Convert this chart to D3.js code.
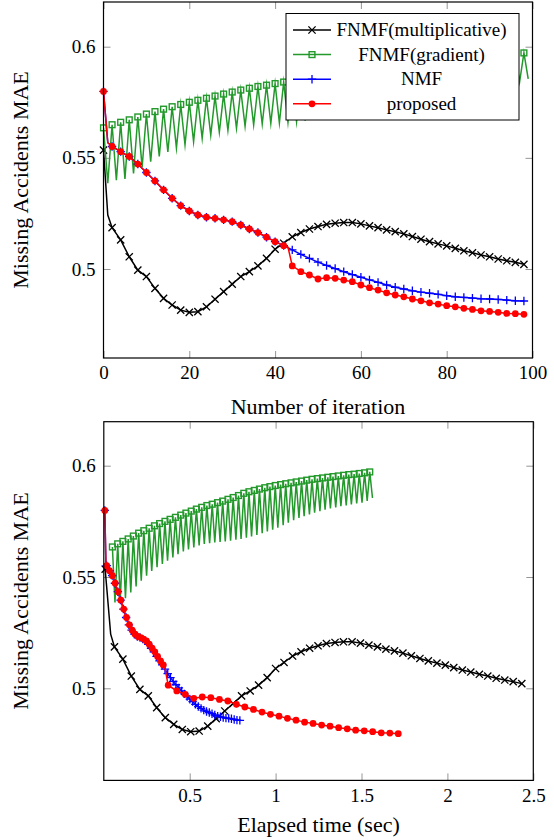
<!DOCTYPE html>
<html><head><meta charset="utf-8">
<script src="https://cdn.jsdelivr.net/npm/d3@7"></script>
<style>body{margin:0;background:#fff}svg{display:block}</style>
</head><body>
<svg id="c" width="554" height="840"></svg>
<script>
// ---------------- DATA ----------------
const seriesNames = ["FNMF(multiplicative)", "FNMF(gradient)", "NMF", "proposed"];
const topXTicks = [0, 20, 40, 60, 80, 100];
const bottomXTicks = [0.5, 1, 1.5, 2, 2.5];
const yTicks = [0.5, 0.55, 0.6];
const topXLabel = "Number of iteration";
const bottomXLabel = "Elapsed time (sec)";
const yLabel = "Missing Accidents MAE";

// FNMF(multiplicative)
const blackIter = [0,1,2,4,6,8,10,12,14,16,18,20,22,24,26,28,30,32,34,36,38,40,42,44,46,48,50,52,54,56,58,60,62,64,66,68,70,72,74,76,78,80,82,84,86,88,90,92,94,96,98];
const blackMAE = [0.5535,0.5243,0.5186,0.5131,0.5055,0.4995,0.4966,0.4913,0.4868,0.4838,0.4815,0.4805,0.4808,0.4830,0.4864,0.4898,0.4932,0.4966,0.4988,0.5014,0.5048,0.5089,0.5116,0.5145,0.5164,0.5180,0.5191,0.5201,0.5206,0.5209,0.5209,0.5203,0.5194,0.5186,0.5176,0.5168,0.5158,0.5146,0.5134,0.5123,0.5113,0.5104,0.5093,0.5082,0.5073,0.5063,0.5055,0.5045,0.5037,0.5030,0.5021];
const blackTime = [0.008,0.040,0.062,0.111,0.160,0.210,0.259,0.308,0.358,0.407,0.457,0.506,0.555,0.605,0.654,0.704,0.753,0.802,0.852,0.901,0.951,1.000,1.049,1.099,1.148,1.198,1.247,1.296,1.346,1.395,1.445,1.494,1.543,1.593,1.642,1.692,1.741,1.790,1.840,1.889,1.939,1.988,2.037,2.087,2.136,2.186,2.235,2.284,2.334,2.383,2.433];

// FNMF(gradient): peaks at even iterations, troughs at odd iterations
const greenPeakMAE = [0.5635,0.5649,0.5660,0.5671,0.5684,0.5697,0.5708,0.5719,0.5730,0.5740,0.5750,0.5759,0.5768,0.5778,0.5787,0.5796,0.5805,0.5813,0.5821,0.5827,0.5834,0.5841,0.5849,0.5857,0.5866,0.5876,0.5883,0.5889,0.5895,0.5901,0.5906,0.5911,0.5915,0.5919,0.5923,0.5927,0.5931,0.5935,0.5939,0.5942,0.5945,0.5948,0.5951,0.5954,0.5957,0.5960,0.5962,0.5965,0.5968,0.5972];
const greenTroughMAE = [0.5386,0.5400,0.5405,0.5430,0.5458,0.5483,0.5506,0.5527,0.5544,0.5559,0.5573,0.5588,0.5602,0.5615,0.5624,0.5633,0.5642,0.5648,0.5652,0.5655,0.5657,0.5660,0.5663,0.5667,0.5671,0.5676,0.5682,0.5689,0.5697,0.5705,0.5713,0.5722,0.5733,0.5744,0.5755,0.5765,0.5773,0.5781,0.5789,0.5796,0.5802,0.5808,0.5813,0.5818,0.5822,0.5826,0.5830,0.5834,0.5842,0.5855];
const greenTime = [0.050,0.065,0.081,0.096,0.111,0.126,0.142,0.157,0.172,0.188,0.203,0.218,0.233,0.249,0.264,0.279,0.295,0.310,0.325,0.341,0.356,0.371,0.386,0.402,0.417,0.432,0.448,0.463,0.478,0.493,0.509,0.524,0.539,0.555,0.570,0.585,0.600,0.616,0.631,0.646,0.662,0.677,0.692,0.707,0.723,0.738,0.753,0.769,0.784,0.799,0.815,0.830,0.845,0.860,0.876,0.891,0.906,0.922,0.937,0.952,0.967,0.983,0.998,1.013,1.029,1.044,1.059,1.074,1.090,1.105,1.120,1.136,1.151,1.166,1.181,1.197,1.212,1.227,1.243,1.258,1.273,1.288,1.304,1.319,1.334,1.350,1.365,1.380,1.396,1.411,1.426,1.441,1.457,1.472,1.487,1.503,1.518,1.533,1.548,1.564];

// NMF
const blueIter = [0,1,2,4,6,8,10,12,14,16,18,20,22,24,26,28,30,32,34,36,38,40,42,44,46,48,50,52,54,56,58,60,62,64,66,68,70,72,74,76,78,80,82,84,86,88,90,92,94,96,98];
const blueMAE = [0.5799,0.5568,0.5551,0.5528,0.5506,0.5472,0.5434,0.5396,0.5356,0.5318,0.5285,0.5261,0.5243,0.5233,0.5228,0.5221,0.5213,0.5198,0.5180,0.5164,0.5143,0.5123,0.5105,0.5086,0.5066,0.5048,0.5031,0.5016,0.5002,0.4988,0.4975,0.4963,0.4951,0.4940,0.4928,0.4918,0.4910,0.4902,0.4896,0.4891,0.4886,0.4880,0.4875,0.4872,0.4869,0.4866,0.4865,0.4863,0.4860,0.4857,0.4856];
const blueTime = [0.006,0.012,0.017,0.033,0.049,0.065,0.082,0.098,0.114,0.130,0.146,0.162,0.178,0.195,0.211,0.227,0.243,0.259,0.275,0.291,0.307,0.324,0.340,0.356,0.372,0.388,0.404,0.420,0.437,0.453,0.469,0.485,0.501,0.517,0.533,0.550,0.566,0.582,0.598,0.614,0.630,0.646,0.663,0.679,0.695,0.711,0.727,0.743,0.759,0.775,0.792];

// proposed
const redIter = [0,1,2,4,6,8,10,12,14,16,18,20,22,24,26,28,30,32,34,36,38,40,42,43,44,46,48,50,52,54,56,58,60,62,64,66,68,70,72,74,76,78,80,82,84,86,88,90,92,94,96,98];
const redMAE = [0.5799,0.5568,0.5551,0.5528,0.5506,0.5472,0.5434,0.5396,0.5356,0.5318,0.5285,0.5261,0.5243,0.5233,0.5228,0.5221,0.5213,0.5198,0.5180,0.5164,0.5143,0.5123,0.5105,0.5099,0.5014,0.4988,0.4973,0.4955,0.4961,0.4958,0.4950,0.4943,0.4928,0.4916,0.4905,0.4893,0.4883,0.4875,0.4865,0.4857,0.4848,0.4842,0.4835,0.4830,0.4823,0.4818,0.4812,0.4809,0.4805,0.4800,0.4799,0.4796];
const redTime = [0.006,0.012,0.017,0.033,0.050,0.066,0.083,0.099,0.116,0.132,0.149,0.165,0.182,0.198,0.215,0.231,0.248,0.264,0.281,0.297,0.313,0.330,0.346,0.354,0.375,0.425,0.474,0.524,0.573,0.623,0.673,0.722,0.772,0.821,0.871,0.921,0.970,1.020,1.069,1.119,1.169,1.218,1.268,1.317,1.367,1.417,1.466,1.516,1.565,1.615,1.665,1.714];

// ---------------- BUILD ----------------
const greenIter = [], greenMAE = [];
greenPeakMAE.forEach((v, k) => { greenIter.push(2*k, 2*k+1); greenMAE.push(v, greenTroughMAE[k]); });

const COLORS = {black: "#000000", green: "#22992a", blue: "#0000ff", red: "#ff0000"};
function mk(iter, mae, time) { return iter.map((it, k) => ({it, v: mae[k], t: time[k]})); }
const series = [
  {name: seriesNames[0], color: COLORS.black, mark: "x", data: mk(blackIter, blackMAE, blackTime)},
  {name: seriesNames[1], color: COLORS.green, mark: "square", data: mk(greenIter, greenMAE, greenTime)},
  {name: seriesNames[2], color: COLORS.blue, mark: "plus", data: mk(blueIter, blueMAE, blueTime)},
  {name: seriesNames[3], color: COLORS.red, mark: "dot", data: mk(redIter, redMAE, redTime)}
];

const svg = d3.select("#c");
const TICK_FONT = "'Liberation Serif', 'Times New Roman', serif";

function drawMark(g, type, color, cx, cy) {
  if (type === "x") {
    const s = 3.6;
    g.append("path").attr("d", `M${cx-s},${cy-s}L${cx+s},${cy+s}M${cx-s},${cy+s}L${cx+s},${cy-s}`)
      .attr("stroke", color).attr("stroke-width", 1.3).attr("fill", "none");
  } else if (type === "plus") {
    const s = 4.2;
    g.append("path").attr("d", `M${cx-s},${cy}L${cx+s},${cy}M${cx},${cy-s}L${cx},${cy+s}`)
      .attr("stroke", color).attr("stroke-width", 1.3).attr("fill", "none");
  } else if (type === "square") {
    const s = 2.9;
    g.append("rect").attr("x", cx-s).attr("y", cy-s).attr("width", 2*s).attr("height", 2*s)
      .attr("stroke", color).attr("stroke-width", 1.4).attr("fill", "none");
  } else if (type === "dot") {
    g.append("circle").attr("cx", cx).attr("cy", cy).attr("r", 3.4).attr("fill", color);
  }
}

function drawChart(o) {
  const x = d3.scaleLinear().domain(o.xDomain).range([o.left, o.right]);
  const y = d3.scaleLinear().domain([0.5, 0.6]).range(o.yRange);
  const g = svg.append("g");
  const clipId = "clip" + o.id;
  svg.append("clipPath").attr("id", clipId).append("rect")
    .attr("x", o.left).attr("y", o.top).attr("width", o.right - o.left).attr("height", o.bottom - o.top);

  // axes (ticks inside, mirrored)
  const tl = 7;
  const ax = (sel) => { sel.select(".domain").remove(); sel.selectAll(".tick line").attr("stroke", "#8a8a8a").attr("stroke-width", 0.9); };
  g.append("g").attr("transform", `translate(0,${o.bottom})`)
    .call(d3.axisBottom(x).tickValues(o.xTicks).tickSizeInner(-tl).tickSizeOuter(0).tickPadding(8).tickFormat(d => String(d)))
    .call(ax).selectAll("text").attr("font-family", TICK_FONT).attr("font-size", 19).attr("fill", "#000");
  g.append("g").attr("transform", `translate(0,${o.top})`)
    .call(d3.axisTop(x).tickValues(o.xTicks).tickSizeInner(-tl).tickSizeOuter(0).tickFormat(""))
    .call(ax);
  g.append("g").attr("transform", `translate(${o.left},0)`)
    .call(d3.axisLeft(y).tickValues(yTicks).tickSizeInner(-tl).tickSizeOuter(0).tickPadding(8).tickFormat(d => String(d)))
    .call(ax).selectAll("text").attr("font-family", TICK_FONT).attr("font-size", 19).attr("fill", "#000");
  g.append("g").attr("transform", `translate(${o.right},0)`)
    .call(d3.axisRight(y).tickValues(yTicks).tickSizeInner(-tl).tickSizeOuter(0).tickFormat(""))
    .call(ax);

  // series
  series.forEach(s => {
    const xv = d => x(o.xKey === "it" ? d.it : d.t);
    const line = d3.line().x(xv).y(d => y(d.v));
    g.append("path").datum(s.data).attr("d", line).attr("fill", "none")
      .attr("stroke", s.color).attr("stroke-width", 1.5)
      .attr("stroke-linejoin", "miter").attr("stroke-miterlimit", 10)
      .attr("clip-path", `url(#${clipId})`);
    const mg = g.append("g");
    s.data.filter(d => d.it % 2 === 0).forEach(d => drawMark(mg, s.mark, s.color, xv(d), y(d.v)));
  });

  // frame
  g.append("rect").attr("x", o.left).attr("y", o.top).attr("width", o.right - o.left).attr("height", o.bottom - o.top)
    .attr("fill", "none").attr("stroke", "#000").attr("stroke-width", 1.2);

  // labels
  g.append("text").attr("transform", `translate(28,${(o.top + o.bottom) / 2}) rotate(-90)`)
    .attr("text-anchor", "middle").attr("font-family", TICK_FONT).attr("font-size", 22).text(yLabel);
  g.append("text").attr("x", (o.left + o.right) / 2).attr("y", o.xLabelY)
    .attr("text-anchor", "middle").attr("font-family", TICK_FONT).attr("font-size", 22).text(o.xLabel);

  if (o.legend) {
    const lg = g.append("g");
    lg.append("rect").attr("x", 286).attr("y", 13.5).attr("width", 233).attr("height", 106.5)
      .attr("fill", "#fff").attr("stroke", "#000").attr("stroke-width", 1);
    series.forEach((s, k) => {
      const cy = 30 + k * 24.6;
      lg.append("line").attr("x1", 293).attr("x2", 331).attr("y1", cy).attr("y2", cy)
        .attr("stroke", s.color).attr("stroke-width", 1.5);
      drawMark(lg, s.mark, s.color, 312, cy);
      lg.append("text").attr("x", 421.5).attr("y", cy).attr("dy", "0.33em").attr("text-anchor", "middle")
        .attr("font-family", TICK_FONT).attr("font-size", 19).text(s.name);
    });
  }
}

drawChart({id: 1, xDomain: [0, 100], xTicks: topXTicks, xKey: "it", left: 103.5, right: 532.5, top: 2, bottom: 358,
  yRange: [269, 46.7], xLabel: topXLabel, xLabelY: 414, legend: true});
drawChart({id: 2, xDomain: [0, 2.5], xTicks: bottomXTicks, xKey: "t", left: 103.8, right: 533.3, top: 421.7, bottom: 780.4,
  yRange: [688.3, 465.7], xLabel: bottomXLabel, xLabelY: 832, legend: false});
</script>
</body></html>
